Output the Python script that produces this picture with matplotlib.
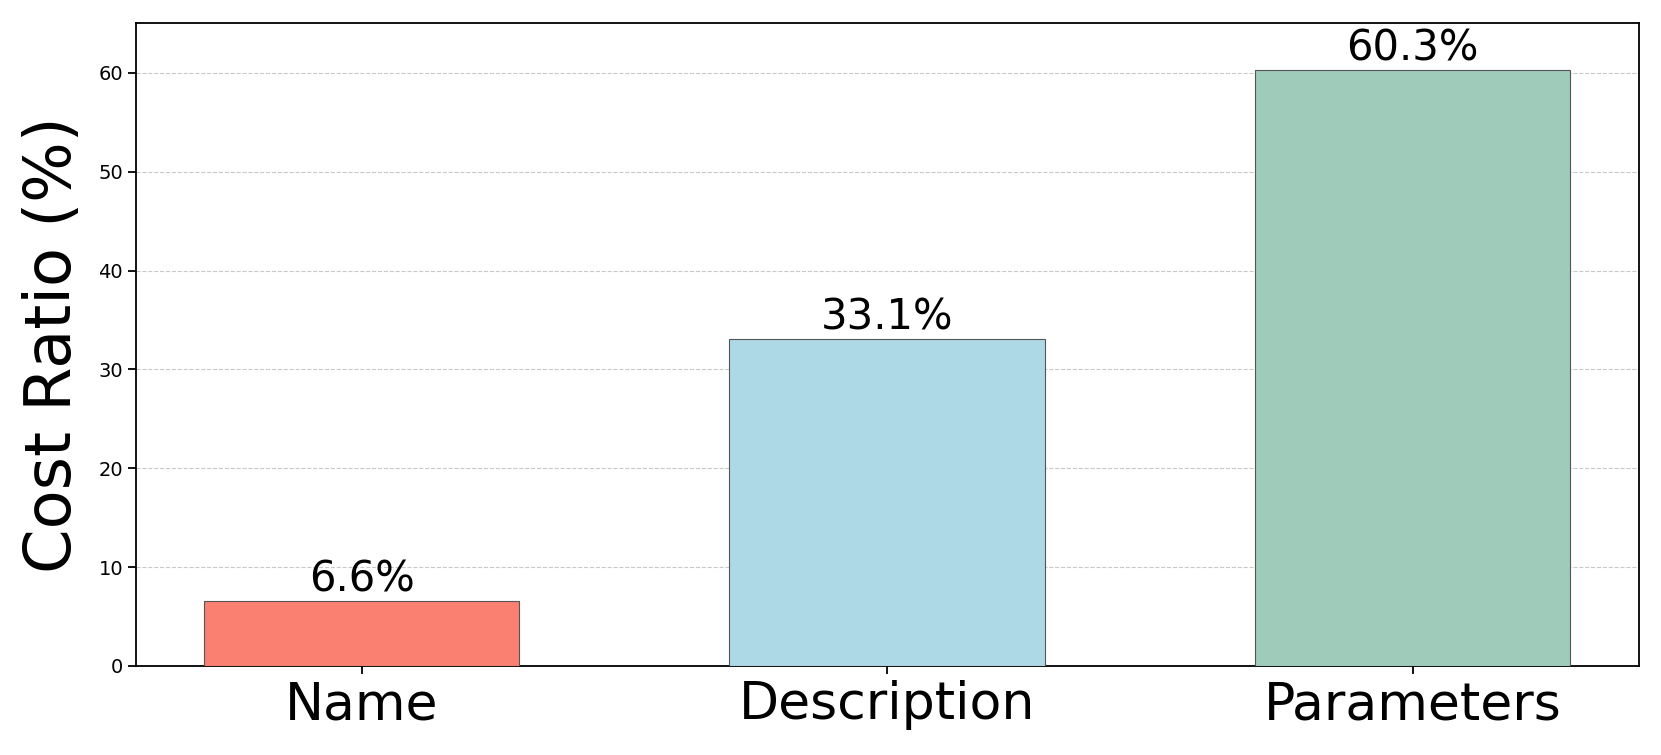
import numpy as np
import matplotlib
matplotlib.use("Agg")
import matplotlib.pyplot as plt

categories = ["Name", "Description", "Parameters"]
cost_ratio = [6.6, 33.1, 60.3]
bar_colors = ["#FA8072", "#ADD8E6", "#9FCBBB"]

fig = plt.figure(figsize=(16.61, 7.55), dpi=100)
ax = fig.add_axes([0.0816, 0.118, 0.905, 0.851])

x = np.arange(len(categories))
bars = ax.bar(x, cost_ratio, width=0.6, color=bar_colors,
              edgecolor="#555555", linewidth=0.8, zorder=3)

# value labels on top of each bar
for b, v in zip(bars, cost_ratio):
    ax.text(b.get_x() + b.get_width() / 2, v, f"{v}%",
            ha="center", va="bottom", fontsize=30)

ax.set_xticks(x)
ax.set_xticklabels(categories, fontsize=37.5)
ax.set_ylabel("Cost Ratio (%)", fontsize=46, labelpad=10)
ax.set_ylim(0, 65)
ax.tick_params(axis="y", labelsize=14, length=5.5, width=1.3)
ax.tick_params(axis="x", length=5.5, width=1.3, pad=5)
ax.grid(axis="y", linestyle="--", color="#bbbbbb", alpha=0.8, zorder=0)
for s in ax.spines.values():
    s.set_linewidth(1.3)

fig.savefig("out.png", dpi=100)
